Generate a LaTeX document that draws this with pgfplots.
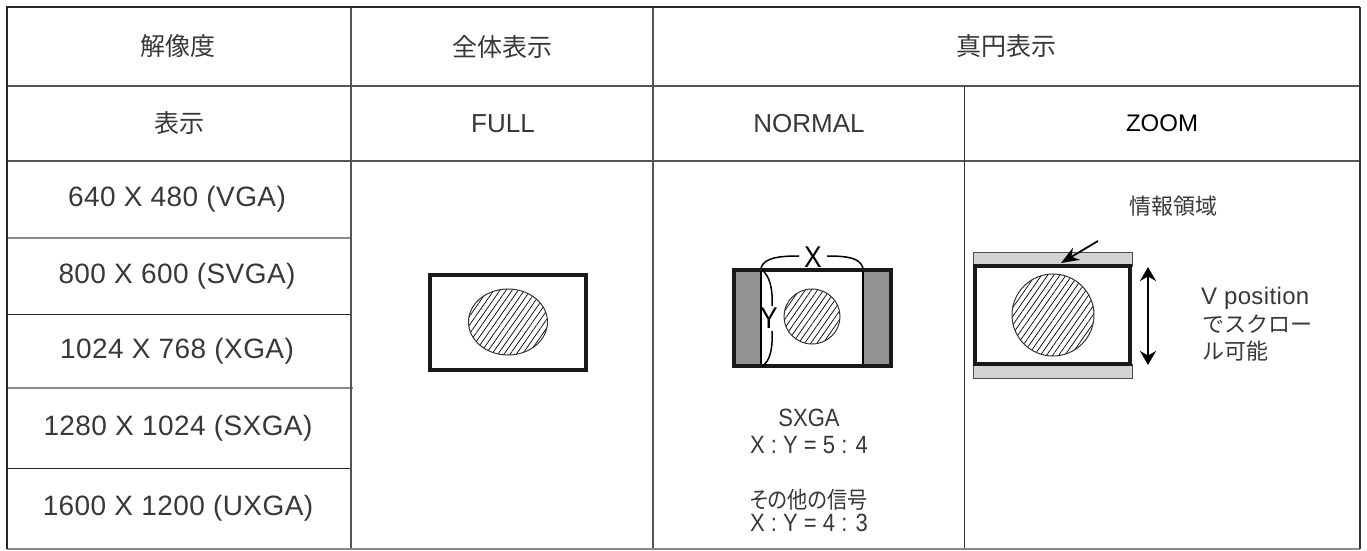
\documentclass[border=0pt]{standalone}
\usepackage{pgfplots}
\pgfplotsset{compat=1.18}
\usetikzlibrary{patterns.meta,arrows.meta}
\usepackage{fontspec}
\setmainfont{Liberation Sans}
\newfontfamily\lsp{Liberation Sans}[LetterSpace=1.5]
\newfontfamily\cond{Liberation Sans}[FakeStretch=0.88]
\newfontfamily\cjk{Noto Sans CJK JP}
\newfontfamily\cjkp{Noto Sans CJK JP}[RawFeature=+palt, FakeStretch=0.88]
\definecolor{txt}{HTML}{383838}
\definecolor{gline}{HTML}{555555}
\definecolor{lline}{HTML}{8A8A8A}
\definecolor{barD}{HTML}{939393}
\definecolor{barL}{HTML}{D3D3D3}
\newcommand\J[1]{{\cjk\fontsize{12.5}{14}\selectfont #1}}
\newcommand\Js[1]{{\cjk\fontsize{11}{13}\selectfont #1}}
\tikzset{hatch/.style={line width=0.5pt, draw=black!80, pattern={Lines[angle=55,distance=2.5pt,line width=0.35pt]}}}
\begin{document}
\begin{tikzpicture}
\begin{axis}[scale only axis, width=683.5pt, height=275.5pt,
  xmin=0, xmax=1367, ymin=0, ymax=551, y dir=reverse,
  hide axis, clip=false]
\path (axis cs:0,0) rectangle (axis cs:1367,551);
% ---- table grid ----
\addplot[color=gline, line width=0.55pt] coordinates {(7,86) (1360,86)};
\addplot[color=gline, line width=0.55pt] coordinates {(7,161) (1360,161)};
\addplot[color=lline, line width=0.7pt] coordinates {(7,238) (351,238)};
\addplot[color=black!85, line width=0.5pt] coordinates {(7,314) (351,314)};
\addplot[color=lline, line width=0.7pt] coordinates {(7,388) (353,388)};
\addplot[color=black!85, line width=0.5pt] coordinates {(7,468) (351,468)};
\addplot[color=gline, line width=0.6pt] coordinates {(351,7) (351,549)};
\addplot[color=gline, line width=0.55pt] coordinates {(653,7) (653,549)};
\addplot[color=black!80, line width=0.5pt] coordinates {(964,86) (964,549)};
\addplot[color=lline, line width=0.6pt] coordinates {(7,549) (1360,549)};
\addplot[color=black!80, line width=0.7pt] coordinates {(1360,7) (1360,549)};
\addplot[color=black!85, line width=1.1pt] coordinates {(7,549) (7,7) (1360,7)};
% ---- text ----
\begin{scope}[every node/.style={text=txt}]
\node at (axis cs:178,46.5) {\J{解像度}};
\node at (axis cs:502,46.5) {\J{全体表示}};
\node at (axis cs:1006.5,46.5) {\J{真円表示}};
\node at (axis cs:179,123.5) {\J{表示}};
\node[font=\fontsize{13}{15}\selectfont] at (axis cs:503,123.5) {FULL};
\node[font=\fontsize{13}{15}\selectfont] at (axis cs:809,123.5) {NORMAL};
\node[font=\fontsize{12}{14}\selectfont, text=black] at (axis cs:1162,123.5) {ZOOM};
\node[font=\lsp\fontsize{14}{17}\selectfont] at (axis cs:177,199.5) {640 X 480 (VGA)};
\node[font=\lsp\fontsize{14}{17}\selectfont] at (axis cs:177,276) {800 X 600 (SVGA)};
\node[font=\lsp\fontsize{14}{17}\selectfont] at (axis cs:177,351) {1024 X 768 (XGA)};
\node[font=\lsp\fontsize{14}{17}\selectfont] at (axis cs:178,428) {1280 X 1024 (SXGA)};
\node[font=\lsp\fontsize{14}{17}\selectfont] at (axis cs:178,508.5) {1600 X 1200 (UXGA)};
\node[font=\cond\fontsize{12.5}{14}\selectfont] at (axis cs:809,418) {SXGA};
\node[font=\cond\fontsize{12.5}{14}\selectfont] at (axis cs:809,445) {X : Y = 5 : 4};
\node at (axis cs:809,500) {{\cjkp\fontsize{11.5}{13}\selectfont その他の信号}};
\node[font=\cond\fontsize{12.5}{14}\selectfont] at (axis cs:809,523) {X : Y = 4 : 3};
\node at (axis cs:1173,206) {\Js{情報領域}};
\node[anchor=base west, font=\lsp\fontsize{12}{14}\selectfont] at (axis cs:1194,305) {V position};
\node[anchor=west] at (axis cs:1195,324) {\Js{でスクロー}};
\node[anchor=west] at (axis cs:1195,351) {\Js{ル可能}};
\end{scope}
% ---- FULL diagram ----
\draw[line width=2pt, draw=black!90] (axis cs:430,275) rectangle (axis cs:586,370);
\draw[hatch] (axis cs:508,322) ellipse [x radius=19.75pt, y radius=16.5pt];
% ---- NORMAL diagram ----
\fill[barD] (axis cs:734,270) rectangle (axis cs:761,366);
\fill[barD] (axis cs:863,270) rectangle (axis cs:891,366);
\draw[line width=0.6pt] (axis cs:761,270) -- (axis cs:761,366);
\draw[line width=0.6pt] (axis cs:863,270) -- (axis cs:863,366);
\draw[line width=2pt, draw=black!90] (axis cs:734,270) rectangle (axis cs:891,366);
\draw[hatch] (axis cs:812,316.5) ellipse [x radius=14pt, y radius=13.75pt];
\draw[line width=0.75pt] (axis cs:761,268) .. controls (axis cs:764,258) and (axis cs:778,256) .. (axis cs:799,256);
\draw[line width=0.75pt] (axis cs:827,256) .. controls (axis cs:848,256) and (axis cs:860,258) .. (axis cs:863,268);
\node[font=\cond\fontsize{15}{16}\selectfont] at (axis cs:813,257) {X};
\draw[line width=0.75pt] (axis cs:762,270) .. controls (axis cs:770,276) and (axis cs:773,290) .. (axis cs:772,306);
\draw[line width=0.75pt] (axis cs:772,331) .. controls (axis cs:773,348) and (axis cs:770,362) .. (axis cs:762,366);
\node[font=\cond\fontsize{15}{16}\selectfont] at (axis cs:769,318.5) {Y};
% ---- ZOOM diagram ----
\draw[fill=barL, draw=black!70, line width=0.5pt] (axis cs:973,253) rectangle (axis cs:1132,266);
\draw[fill=barL, draw=black!70, line width=0.5pt] (axis cs:973,364) rectangle (axis cs:1132,378);
\draw[line width=2pt, draw=black!90, fill=white] (axis cs:975,266) rectangle (axis cs:1130,364);
\draw[hatch] (axis cs:1053,315) ellipse [x radius=20.5pt, y radius=20.5pt];
\draw[line width=0.9pt, -{Stealth[length=9pt,width=7pt]}] (axis cs:1098,241) -- (axis cs:1061,263);
\draw[line width=0.9pt, {Stealth[length=7pt,width=8pt]}-{Stealth[length=7pt,width=8pt]}] (axis cs:1148,267) -- (axis cs:1148,365);
\end{axis}
\end{tikzpicture}
\end{document}
